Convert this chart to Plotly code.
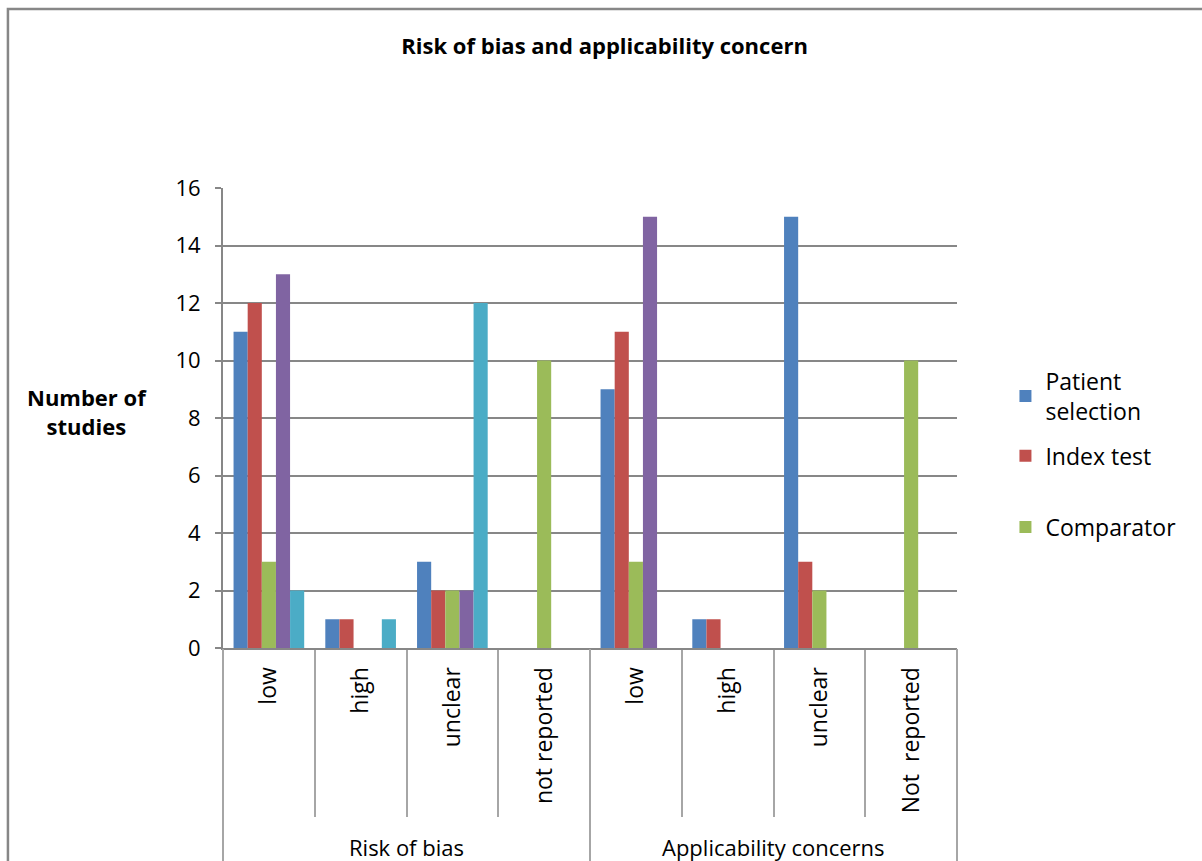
import plotly.graph_objects as go

# Sub-categories along the x axis, grouped under two domains
categories = ["low", "high", "unclear", "not reported",
              "low", "high", "unclear", "Not  reported"]
groups = ["Risk of bias", "Applicability concerns"]

# Number of studies per series
patient_selection = [11, 1, 3, 0, 9, 1, 15, 0]
index_test = [12, 1, 2, 0, 11, 1, 3, 0]
comparator = [3, 0, 2, 10, 3, 0, 2, 10]
reference_standard = [13, 0, 2, 0, 15, 0, 0, 0]
flow_timing = [2, 1, 12, 0, 0, 0, 0, 0]

y_ticks = [0, 2, 4, 6, 8, 10, 12, 14, 16]

x_pos = list(range(len(categories)))
FONT = "Open Sans"
GRID = "#878787"
DIV = "#a6a6a6"

fig = go.Figure()
# (legend name, values, colour, legend box, legend group)
series = [
    ("Patient<br>selection", patient_selection, "#4F81BD", "legend", "a"),
    ("Index test", index_test, "#C0504D", "legend", "b"),
    ("Comparator", comparator, "#9BBB59", "legend2", "c"),
    ("Reference standard", reference_standard, "#8064A2", None, "d"),
    ("Flow and timing", flow_timing, "#4BACC6", None, "e"),
]
for name, vals, color, leg, grp in series:
    fig.add_trace(go.Bar(
        x=x_pos, y=vals, name=name, marker_color=color,
        marker_line_width=0, showlegend=leg is not None,
        legend=leg or "legend", legendgroup=grp,
    ))

legend_style = dict(xanchor="left", traceorder="grouped",
                    font=dict(family=FONT, size=23),
                    bgcolor="rgba(0,0,0,0)")

fig.update_layout(
    width=1202, height=861,
    margin=dict(l=223, r=245, t=188, b=213, autoexpand=False),
    paper_bgcolor="white", plot_bgcolor="white",
    barmode="group", bargap=0.23, bargroupgap=0,
    font=dict(family=FONT, size=22, color="black"),
    title=dict(text="<b>Risk of bias and applicability concern</b>",
               x=0.503, xanchor="center", y=0.946, yanchor="middle",
               font=dict(family=FONT, size=22, color="black")),
    legend=dict(x=1.066, y=0.627, yanchor="top", tracegroupgap=12,
                **legend_style),
    legend2=dict(x=1.066, y=0.263, yanchor="middle", **legend_style),
    xaxis=dict(
        range=[-0.5, 7.5], tickmode="array", tickvals=x_pos,
        ticktext=categories, tickangle=-90, ticks="",
        ticklabelstandoff=8, automargin=False,
        showline=True, linecolor=GRID, linewidth=2, showgrid=False,
        zeroline=False, tickfont=dict(size=23),
        minor=dict(tickmode="linear", tick0=-0.5, dtick=1,
                   ticks="outside", ticklen=167, tickcolor=DIV,
                   tickwidth=1.5, showgrid=False),
    ),
    xaxis2=dict(
        range=[-0.5, 7.5], overlaying="x", anchor="y", side="bottom",
        tickmode="array", tickvals=[-0.5, 3.5, 7.5], ticks="outside",
        ticklen=215, tickcolor=DIV, tickwidth=1.5, automargin=False,
        showticklabels=False, showgrid=False, zeroline=False,
    ),
    yaxis=dict(
        range=[0, 16], tickmode="array", tickvals=y_ticks,
        showgrid=True, gridcolor=GRID, gridwidth=2, automargin=False,
        showline=True, linecolor=GRID, linewidth=2,
        ticks="outside", ticklen=6, tickcolor=GRID, tickwidth=2,
        ticklabelstandoff=10,
        zeroline=False, tickfont=dict(size=22),
    ),
)

# Invisible trace to attach the secondary x axis carrying the group dividers
fig.add_trace(go.Scatter(x=[-0.5], y=[0], xaxis="x2", mode="markers",
                         marker=dict(opacity=0), showlegend=False,
                         hoverinfo="skip"))

# Group labels under the sub-categories
for i, g in enumerate(groups):
    fig.add_annotation(x=1.5 + 4 * i, xref="x", y=-0.433, yref="paper",
                       text=g, showarrow=False, yanchor="middle",
                       font=dict(family=FONT, size=22))

# Axis title
fig.add_annotation(x=-0.185, xref="paper", y=0.515, yref="paper",
                   text="<b>Number of<br>studies</b>", showarrow=False,
                   xanchor="center", yanchor="middle",
                   font=dict(family=FONT, size=22))

# Outer chart frame
fig.add_shape(type="rect", xref="paper", yref="paper",
              x0=-0.293, x1=1.5, y0=-0.6, y1=1.389,
              line=dict(color="#878787", width=2.5), layer="below")

fig.write_html("out.html")
